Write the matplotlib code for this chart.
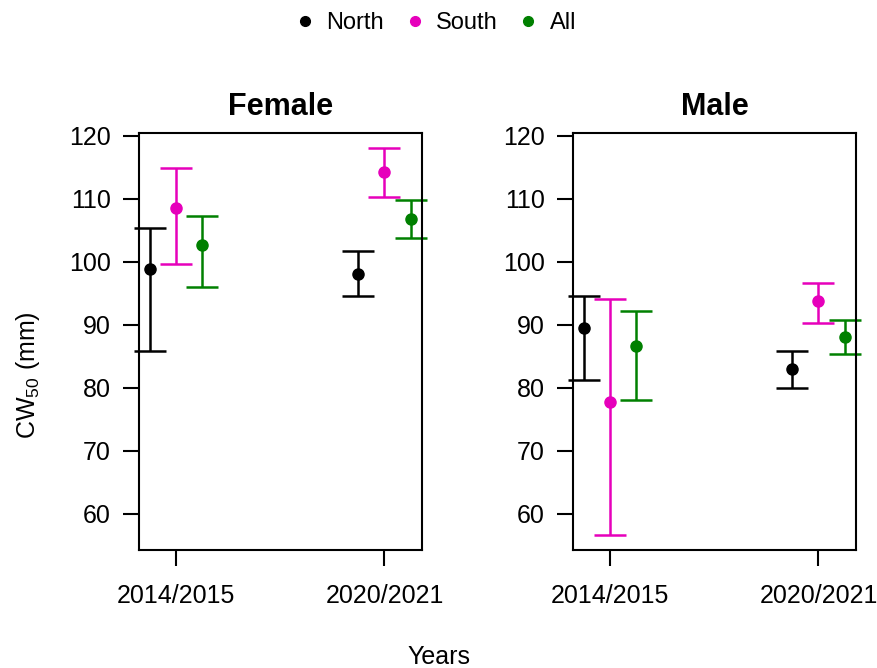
import matplotlib.pyplot as plt

plt.rcParams['font.family'] = ['Liberation Sans', 'DejaVu Sans']
plt.rcParams['mathtext.fontset'] = 'custom'
plt.rcParams['mathtext.rm'] = 'Liberation Sans'
plt.rcParams['mathtext.it'] = 'Liberation Sans'

years = ["2014/2015", "2020/2021"]
groups = ["North", "South", "All"]
colors = ["black", "#E600BB", "#008000"]

# Female: estimate, lower, upper per group, per year
female_est = {"North": [98.9, 98.0], "South": [108.5, 114.3], "All": [102.7, 106.7]}
female_lo = {"North": [85.9, 94.5], "South": [99.6, 110.2], "All": [96.0, 103.8]}
female_hi = {"North": [105.4, 101.7], "South": [114.9, 118.0], "All": [107.2, 109.8]}

male_est = {"North": [89.5, 82.9], "South": [77.8, 93.7], "All": [86.6, 88.0]}
male_lo = {"North": [81.2, 80.0], "South": [56.6, 90.2], "All": [78.0, 85.3]}
male_hi = {"North": [94.5, 85.9], "South": [94.1, 96.6], "All": [92.2, 90.7]}

offsets = [-0.125, 0.0, 0.125]

fig = plt.figure(figsize=(8.77, 6.68), dpi=100)
ax1 = fig.add_axes([139 / 877, 1 - 550 / 668, 283 / 877, 417 / 668])
ax2 = fig.add_axes([573 / 877, 1 - 550 / 668, 283 / 877, 417 / 668])

panels = [(ax1, "Female", female_est, female_lo, female_hi),
          (ax2, "Male", male_est, male_lo, male_hi)]

for ax, title, est, lo, hi in panels:
    for g, c, off in zip(groups, colors, offsets):
        xs = [1 + off, 2 + off]
        e = est[g]
        yerr = [[e[i] - lo[g][i] for i in range(2)], [hi[g][i] - e[i] for i in range(2)]]
        ax.errorbar(xs, e, yerr=yerr, fmt='o', color=c, ecolor=c, markersize=8,
                    elinewidth=1.8, capsize=11.5, capthick=1.8, label=g, clip_on=False)
    ax.set_xlim(0.822, 2.18)
    ax.set_ylim(54.23, 120.43)
    ax.set_yticks([60, 70, 80, 90, 100, 110, 120])
    ax.set_xticks([1, 2])
    ax.set_xticklabels(years)
    ax.tick_params(axis='both', labelsize=18, length=11.5, width=1.5)
    ax.tick_params(axis='x', pad=13)
    ax.tick_params(axis='y', pad=9)
    for s in ax.spines.values():
        s.set_linewidth(1.5)
    ax.set_title(title, fontsize=22, fontweight='bold', pad=13)

fig.text(28 / 877, 1 - 375 / 668, "CW$_{50}$ (mm)", rotation=90, ha='center', va='center', fontsize=18)
fig.text(0.5, 1 - 657 / 668, "Years", ha='center', va='center', fontsize=18)

handles = [plt.Line2D([], [], marker='o', linestyle='', color=c, markersize=7) for c in colors]
fig.legend(handles, groups, loc='center', bbox_to_anchor=(437 / 877, 1 - 23 / 668), ncol=3,
           frameon=False, fontsize=17, handlelength=0.6, handletextpad=0.6, columnspacing=1.0)

fig.savefig("out.png", dpi=100)
